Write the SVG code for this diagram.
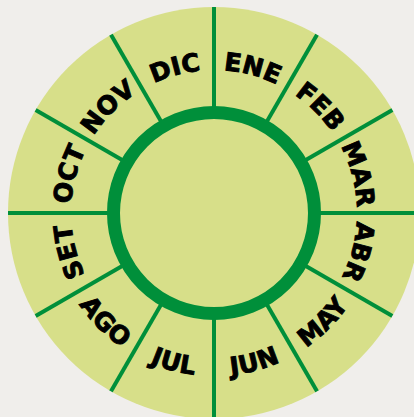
<svg xmlns="http://www.w3.org/2000/svg" xmlns:xlink="http://www.w3.org/1999/xlink" width="414" height="417" viewBox="0 0 414 417">
<style>
.lbl{font-family:"DejaVu Sans","Liberation Sans",sans-serif;font-weight:bold;font-size:25px;letter-spacing:0.3px;fill:#000;stroke:#000;stroke-width:0.9}
.spoke{stroke:#008f3a;stroke-width:4;fill:none}
</style>
<defs>
<path id="arcTop" d="M -48.9 -134.4 A 143 143 0 0 1 48.9 -134.4"/>
<path id="arcBot" d="M -55.75 153.2 A 163 163 0 0 0 55.75 153.2"/>
<clipPath id="disc"><circle cx="214" cy="213" r="206"/></clipPath>
</defs>
<rect width="414" height="417" fill="#f0eeeb"/>
<g id="wheel">
<circle cx="214" cy="213" r="206" fill="#d7df89"/>
</g>
<g id="connectors" clip-path="url(#disc)">
<line class="spoke" x1="214" y1="113" x2="214" y2="5"/>
<line class="spoke" x1="264" y1="126.4" x2="318" y2="32.9"/>
<line class="spoke" x1="300.6" y1="163" x2="394.1" y2="109"/>
<line class="spoke" x1="314" y1="213" x2="422" y2="213"/>
<line class="spoke" x1="300.6" y1="263" x2="394.1" y2="317"/>
<line class="spoke" x1="264" y1="299.6" x2="318" y2="393.1"/>
<line class="spoke" x1="214" y1="313" x2="214" y2="421"/>
<line class="spoke" x1="164" y1="299.6" x2="110" y2="393.1"/>
<line class="spoke" x1="127.4" y1="263" x2="33.9" y2="317"/>
<line class="spoke" x1="114" y1="213" x2="6" y2="213"/>
<line class="spoke" x1="127.4" y1="163" x2="33.9" y2="109"/>
<line class="spoke" x1="164" y1="126.4" x2="110" y2="32.9"/>
</g>
<g id="center">
<circle cx="214" cy="213" r="100.5" fill="#d7df89" stroke="#008f3a" stroke-width="13"/>
</g>
<g id="ENE" transform="translate(214,213) rotate(15)"><text class="lbl" text-anchor="middle"><textPath xlink:href="#arcTop" startOffset="50%">ENE</textPath></text></g>
<g id="FEB" transform="translate(214,213) rotate(45)"><text class="lbl" text-anchor="middle"><textPath xlink:href="#arcTop" startOffset="50%">FEB</textPath></text></g>
<g id="MAR" transform="translate(214,213) rotate(75)"><text class="lbl" text-anchor="middle"><textPath xlink:href="#arcTop" startOffset="50%">MAR</textPath></text></g>
<g id="ABR" transform="translate(214,213) rotate(105)"><text class="lbl" text-anchor="middle"><textPath xlink:href="#arcTop" startOffset="50%">ABR</textPath></text></g>
<g id="MAY" transform="translate(214,213) rotate(-45)"><text class="lbl" text-anchor="middle"><textPath xlink:href="#arcBot" startOffset="50%">MAY</textPath></text></g>
<g id="JUN" transform="translate(214,213) rotate(-15)"><text class="lbl" text-anchor="middle"><textPath xlink:href="#arcBot" startOffset="50%">JUN</textPath></text></g>
<g id="JUL" transform="translate(214,213) rotate(15)"><text class="lbl" text-anchor="middle"><textPath xlink:href="#arcBot" startOffset="50%">JUL</textPath></text></g>
<g id="AGO" transform="translate(214,213) rotate(45)"><text class="lbl" text-anchor="middle"><textPath xlink:href="#arcBot" startOffset="50%">AGO</textPath></text></g>
<g id="SET" transform="translate(214,213) rotate(255)"><text class="lbl" text-anchor="middle"><textPath xlink:href="#arcTop" startOffset="50%">SET</textPath></text></g>
<g id="OCT" transform="translate(214,213) rotate(285)"><text class="lbl" text-anchor="middle"><textPath xlink:href="#arcTop" startOffset="50%">OCT</textPath></text></g>
<g id="NOV" transform="translate(214,213) rotate(315)"><text class="lbl" text-anchor="middle"><textPath xlink:href="#arcTop" startOffset="50%">NOV</textPath></text></g>
<g id="DIC" transform="translate(214,213) rotate(345)"><text class="lbl" text-anchor="middle"><textPath xlink:href="#arcTop" startOffset="50%">DIC</textPath></text></g>
</svg>
